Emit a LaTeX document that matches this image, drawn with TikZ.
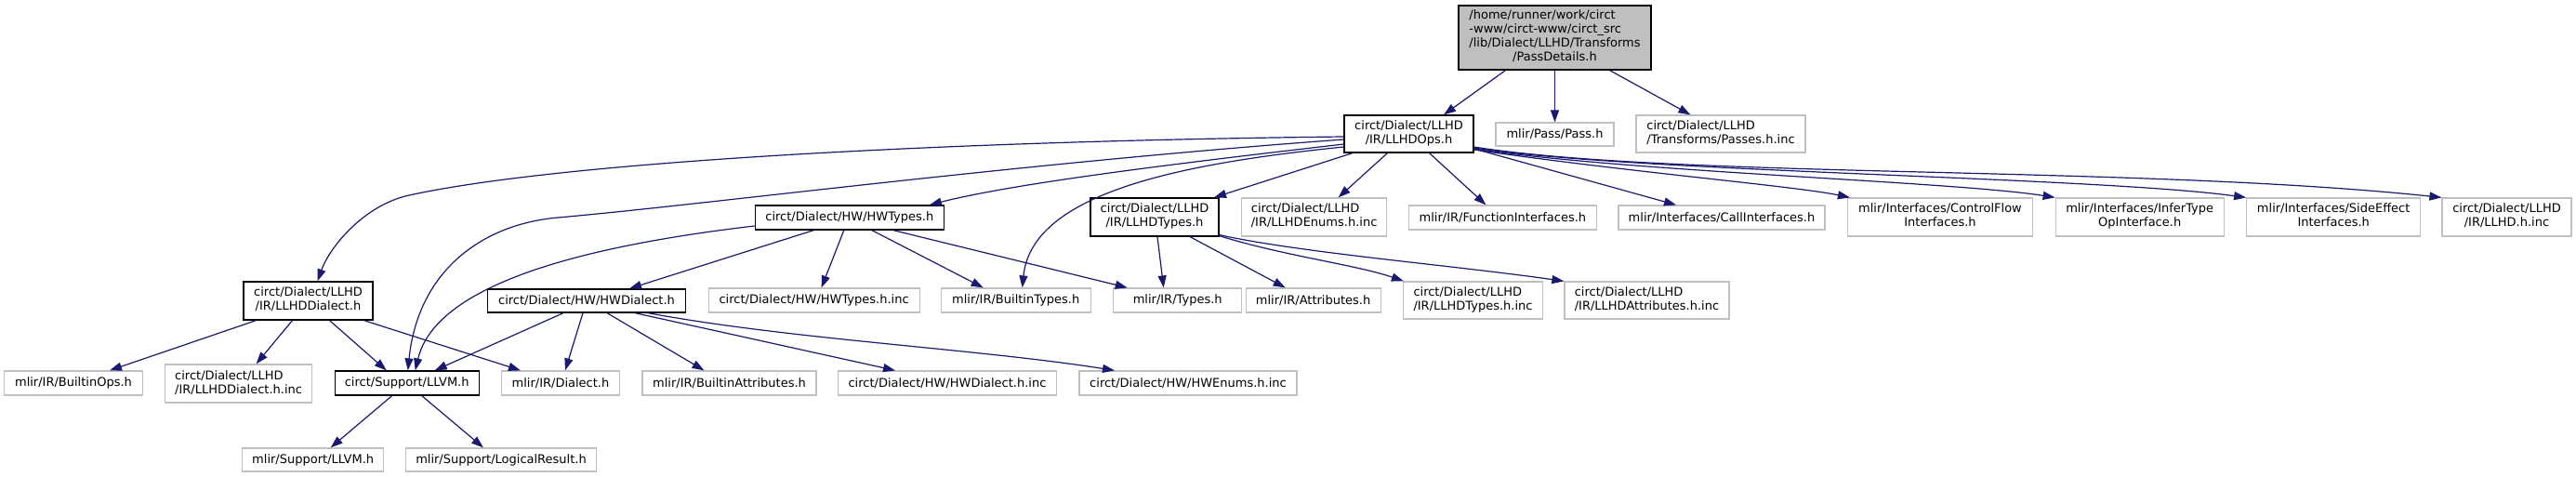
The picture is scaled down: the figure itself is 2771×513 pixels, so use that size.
\documentclass[tikz,border=0pt]{standalone}
\usepackage{fontspec}
\setmainfont{DejaVu Sans}
\usetikzlibrary{arrows.meta}
\definecolor{edgec}{HTML}{191970}
\definecolor{grayb}{HTML}{BFBFBF}
\newcommand{\twoln}[2]{\begin{tabular}{@{}l@{}}#1\\\multicolumn{1}{@{}c@{}}{#2}\end{tabular}}
\begin{document}
\begin{tikzpicture}[x=1bp,y=-1bp,
  box/.style={draw=grayb, line width=1.2bp, inner sep=0pt, text=black,
    font=\fontsize{13bp}{15bp}\selectfont},
  dbox/.style={box, draw=black},
  sz/.style 2 args={minimum width=#1bp, minimum height=#2bp},
  edge/.style={draw=edgec, line width=1.2bp, -{Triangle[length=13bp,width=9bp]}},
]
\fill[white] (0,0) rectangle (2771,513);
\useasboundingbox (0,0) rectangle (2771,513);

% row 1
\node[dbox, fill=grayb, sz={207}{69}] (pd) at (1672.5,40.5)
  {\begin{tabular}{@{}l@{}}/home/runner/work/circt\\-www/circt-www/circt\_src\\/lib/Dialect/LLHD/Transforms\\\multicolumn{1}{@{}c@{}}{/PassDetails.h}\end{tabular}};
% row 2
\node[dbox, sz={139}{40}] (ops) at (1515.5,144) {\twoln{circt/Dialect/LLHD}{/IR/LLHDOps.h}};
\node[box, sz={127}{25}] (pass) at (1672.5,144.5) {mlir/Pass/Pass.h};
\node[box, sz={182}{40}] (passesinc) at (1851,144) {\twoln{circt/Dialect/LLHD}{/Transforms/Passes.h.inc}};
% row 3
\node[dbox, sz={203}{26}] (hwtypes) at (913.8,234) {circt/Dialect/HW/HWTypes.h};
\node[dbox, sz={138}{41}] (lltypes) at (1242,233.5) {\twoln{circt/Dialect/LLHD}{/IR/LLHDTypes.h}};
\node[box, sz={156}{41}] (enumsinc) at (1413.6,233.5) {\twoln{circt/Dialect/LLHD}{/IR/LLHDEnums.h.inc}};
\node[box, sz={202}{26}] (funcif) at (1616.4,234) {mlir/IR/FunctionInterfaces.h};
\node[box, sz={222}{26}] (callif) at (1852,234) {mlir/Interfaces/CallInterfaces.h};
\node[box, sz={199}{41}] (cfif) at (2087,233.5) {\twoln{mlir/Interfaces/ControlFlow}{Interfaces.h}};
\node[box, sz={181}{41}] (inferif) at (2301.7,233.5) {\twoln{mlir/Interfaces/InferType}{OpInterface.h}};
\node[box, sz={187}{41}] (seif) at (2510.2,233.5) {\twoln{mlir/Interfaces/SideEffect}{Interfaces.h}};
\node[box, sz={139}{41}] (llhdinc) at (2696.5,233.5) {\twoln{circt/Dialect/LLHD}{/IR/LLHD.h.inc}};
% row 4
\node[dbox, sz={139}{41}] (llhddialect) at (331.5,323.5) {\twoln{circt/Dialect/LLHD}{/IR/LLHDDialect.h}};
\node[dbox, sz={213}{25}] (hwdialect) at (631,323.5) {circt/Dialect/HW/HWDialect.h};
\node[box, sz={227}{26}] (hwtypesinc) at (875.6,323) {circt/Dialect/HW/HWTypes.h.inc};
\node[box, sz={161}{26}] (builtintypes) at (1092.7,323) {mlir/IR/BuiltinTypes.h};
\node[box, sz={138}{26}] (types) at (1266.7,323) {mlir/IR/Types.h};
\node[box, sz={145}{26}] (attrs) at (1412.6,323) {mlir/IR/Attributes.h};
\node[box, sz={150}{40}] (lltypesinc) at (1584.5,323) {\twoln{circt/Dialect/LLHD}{/IR/LLHDTypes.h.inc}};
\node[box, sz={177}{40}] (llattrsinc) at (1771.5,323) {\twoln{circt/Dialect/LLHD}{/IR/LLHDAttributes.h.inc}};
% row 5
\node[box, sz={149}{26}] (builtinops) at (79,412) {mlir/IR/BuiltinOps.h};
\node[box, sz={158}{41}] (dialectinc) at (256.6,412.5) {\twoln{circt/Dialect/LLHD}{/IR/LLHDDialect.h.inc}};
\node[dbox, sz={155}{26}] (llvm) at (437.7,412) {circt/Support/LLVM.h};
\node[box, sz={127}{26}] (dialect) at (603,412) {mlir/IR/Dialect.h};
\node[box, sz={187}{26}] (battrs) at (784.5,412) {mlir/IR/BuiltinAttributes.h};
\node[box, sz={235}{26}] (hwdialectinc) at (1019,412) {circt/Dialect/HW/HWDialect.h.inc};
\node[box, sz={234}{26}] (hwenumsinc) at (1278,412) {circt/Dialect/HW/HWEnums.h.inc};
% row 6
\node[box, sz={152}{25}] (mllvm) at (336.7,494.5) {mlir/Support/LLVM.h};
\node[box, sz={205}{25}] (logical) at (539,494.5) {mlir/Support/LogicalResult.h};

% edges from PassDetails
\draw[edge] ([xshift=-53bp]pd.south) -- ([xshift=37.5bp]ops.north);
\draw[edge] (pd.south) -- (pass.north);
\draw[edge] ([xshift=59bp]pd.south) -- ([xshift=-32.6bp]passesinc.north);

% edges from LLHDOps
\draw[edge] ([yshift=-3bp]ops.west) .. controls (1000,152) and (600,175) .. (440,210)
  .. controls (392,220.5) and (355,265) .. ([xshift=10bp]llhddialect.north);
\draw[edge] ([yshift=-6bp]ops.west) .. controls (1100,175) and (760,220) .. (600,234)
  .. controls (520,241) and (450,290) .. ([xshift=1bp]llvm.north);
\draw[edge] ([yshift=-11bp]ops.west) .. controls (1300,172) and (1100,195) .. ([xshift=86bp]hwtypes.north);
\draw[edge] ([yshift=-14bp]ops.west) .. controls (1280,175) and (1110,205) .. ([xshift=7bp]builtintypes.north);
\draw[edge] ([xshift=-60.5bp]ops.south) -- ([xshift=64bp]lltypes.north);
\draw[edge] ([xshift=-23bp]ops.south) -- ([xshift=26bp]enumsinc.north);
\draw[edge] ([xshift=22bp]ops.south) -- ([xshift=-18bp]funcif.north);
\draw[edge] ([yshift=-16bp]ops.east) -- ([xshift=-49bp]callif.north);
\draw[edge] ([yshift=-17bp]ops.east) .. controls (1750,185) and (1930,200) .. ([xshift=3bp]cfif.north west);
\draw[edge] ([yshift=-16bp]ops.east) .. controls (1750,185) and (2100,195) .. (inferif.north west);
\draw[edge] ([yshift=-15bp]ops.east) .. controls (1750,185) and (2250,190) .. (seif.north west);
\draw[edge] ([yshift=-14bp]ops.east) .. controls (1800,192) and (2300,178) .. (llhdinc.north west);

% edges from HWTypes
\draw[edge] ([yshift=-9bp]hwtypes.west) .. controls (650,262) and (470,300) .. ([xshift=9bp]llvm.north);
\draw[edge] ([xshift=-38.4bp]hwtypes.south) -- ([xshift=46bp]hwdialect.north);
\draw[edge] ([xshift=-6bp]hwtypes.south) -- ([xshift=8bp]hwtypesinc.north);
\draw[edge] ([xshift=24bp]hwtypes.south) -- ([xshift=-35bp]builtintypes.north);
\draw[edge] ([xshift=47bp]hwtypes.south) -- ([xshift=-54bp]types.north);

% edges from LLHDTypes
\draw[edge] ([xshift=3bp]lltypes.south) -- ([xshift=-15bp]types.north);
\draw[edge] ([xshift=38bp]lltypes.south) -- ([xshift=-30bp]attrs.north);
\draw[edge] ([yshift=1bp]lltypes.south east) .. controls (1380,275) and (1460,285) .. ([xshift=1bp]lltypesinc.north west);
\draw[edge] ([yshift=2bp]lltypes.south east) .. controls (1400,272) and (1560,285) .. (llattrsinc.north west);

% edges from LLHDDialect
\draw[edge] ([xshift=-56bp]llhddialect.south) -- ([xshift=39bp]builtinops.north);
\draw[edge] ([xshift=-17bp]llhddialect.south) -- ([xshift=19bp]dialectinc.north);
\draw[edge] ([xshift=23bp]llhddialect.south) -- ([xshift=-22bp]llvm.north);
\draw[edge] ([xshift=60bp]llhddialect.south) -- ([xshift=-43bp]dialect.north);

% edges from HWDialect
\draw[edge] ([xshift=-25bp]hwdialect.south) -- ([xshift=30bp]llvm.north);
\draw[edge] ([xshift=-4bp]hwdialect.south) -- ([xshift=5bp]dialect.north);
\draw[edge] ([xshift=22bp]hwdialect.south) -- ([xshift=-27bp]battrs.north);
\draw[edge] ([xshift=52bp]hwdialect.south) -- ([xshift=-56bp]hwdialectinc.north);
\draw[edge] ([xshift=66bp]hwdialect.south) .. controls (850,365) and (1050,375) .. ([xshift=-79bp]hwenumsinc.north);

% edges from circt/Support/LLVM.h
\draw[edge] ([xshift=-16bp]llvm.south) -- ([xshift=19bp]mllvm.north);
\draw[edge] ([xshift=16bp]llvm.south) -- ([xshift=-19bp]logical.north);
\end{tikzpicture}
\end{document}
